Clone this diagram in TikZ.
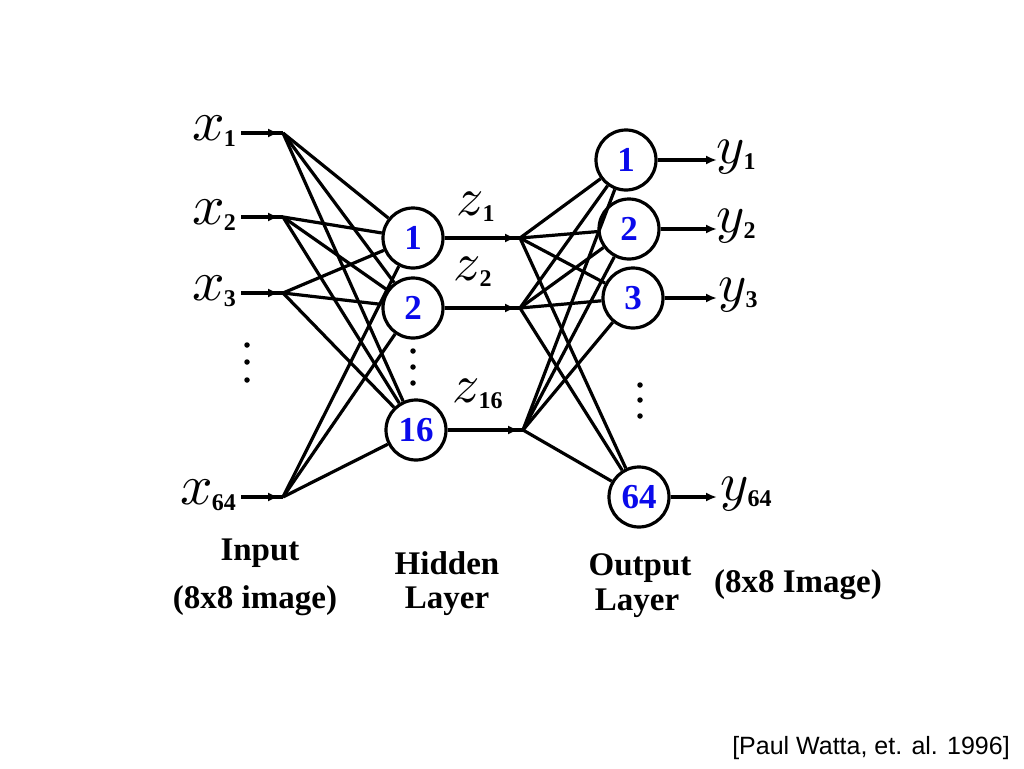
\documentclass[tikz,border=0pt]{standalone}
\usepackage{fontspec}
\setmainfont{Liberation Serif}
\newfontfamily\citefont{Liberation Sans}
\DeclareFontShape{OML}{cmm}{m}{it}{<->cmmi10}{\skewchar\font'177}
\usetikzlibrary{arrows.meta,decorations.markings}
\definecolor{numblue}{RGB}{10,10,235}
\newcommand\varlab[3]{\fontsize{#1}{#1}\selectfont$#2$\kern-1pt\raisebox{-6pt}{\fontsize{24}{24}\selectfont\bfseries #3}}
\begin{document}
\begin{tikzpicture}[x=1pt,y=-1pt,
  neuron/.style={circle,draw,line width=3.2pt,minimum size=60pt,inner sep=0pt,
    font=\fontsize{35}{35}\selectfont\bfseries,text=numblue},
  conn/.style={line width=3.2pt},
  midarr/.style={line width=3.4pt,postaction={decorate},
    decoration={markings,mark=at position -4pt with {\arrow{Latex[length=11pt,width=9pt]}}}},
  endarr/.style={line width=3.4pt,-{Latex[length=11pt,width=9pt]}},
  lab/.style={font=\fontsize{33}{36}\selectfont\bfseries,align=center},
  dotnode/.style={circle,fill,inner sep=0pt,minimum size=5.5pt}]
\useasboundingbox (0,0) rectangle (1024,768);
% input fan points
\coordinate (a1) at (283,133);
\coordinate (a2) at (283,217);
\coordinate (a3) at (283,293);
\coordinate (a64) at (283,497);
\coordinate (s1) at (241,133);
\coordinate (s2) at (241,217);
\coordinate (s3) at (241,293);
\coordinate (s64) at (241,497);
% hidden
\node[neuron] (h1) at (413,238) {1};
\node[neuron] (h2) at (413,308) {2};
\node[neuron] (h16) at (416,430) {16};
\coordinate (f1) at (520,238);
\coordinate (f2) at (520,308);
\coordinate (f16) at (523,430);
% output
\node[neuron] (o1) at (626,160) {1};
\node[neuron] (o2) at (629,229) {2};
\node[neuron] (o3) at (633,298) {3};
\node[neuron] (o64) at (639,497) {64};
\coordinate (e1) at (717,160);
\coordinate (e2) at (717,229);
\coordinate (e3) at (717,298);
\coordinate (e64) at (717,497);
% input labels
\node[anchor=base east,inner sep=0pt] (lx1) at (236,140) {\varlab{57}{x}{1}};
\node[anchor=base east,inner sep=0pt] (lx2) at (236,224) {\varlab{57}{x}{2}};
\node[anchor=base east,inner sep=0pt] (lx3) at (236,300) {\varlab{57}{x}{3}};
\node[anchor=base east,inner sep=0pt] (lx64) at (236,504) {\varlab{57}{x}{64}};
% input arrows
\foreach \i in {1,2,3,64} \draw[midarr] (s\i) -- (a\i);
% input connections
\foreach \i in {1,2,3,64} \foreach \j in {1,2,16} \draw[conn] (a\i) -- (h\j);
% hidden arrows
\foreach \j in {1,2,16} \draw[midarr] (h\j) -- (f\j);
% hidden to output
\foreach \j in {1,2,16} \foreach \k in {1,2,3,64} \draw[conn] (f\j) -- (o\k);
% output arrows
\foreach \k in {1,2,3,64} \draw[endarr] (o\k) -- (e\k);
% z labels
\node[anchor=base west,inner sep=0pt] (lz1) at (456,215) {\varlab{54}{z}{1}};
\node[anchor=base west,inner sep=0pt] (lz2) at (453,280) {\varlab{54}{z}{2}};
\node[anchor=base west,inner sep=0pt] (lz16) at (452,402) {\varlab{54}{z}{16}};
% y labels
\node[anchor=base west,inner sep=0pt] (ly1) at (716,163) {\varlab{54}{y}{1}};
\node[anchor=base west,inner sep=0pt] (ly2) at (716,232) {\varlab{54}{y}{2}};
\node[anchor=base west,inner sep=0pt] (ly3) at (718,301) {\varlab{54}{y}{3}};
\node[anchor=base west,inner sep=0pt] (ly64) at (720,500) {\varlab{54}{y}{64}};
% dots
\node[dotnode] (d1) at (247,345) {};
\node[dotnode] (d2) at (247,362) {};
\node[dotnode] (d3) at (247,380) {};
\node[dotnode] (d4) at (413,351) {};
\node[dotnode] (d5) at (413,367) {};
\node[dotnode] (d6) at (413,383) {};
\node[dotnode] (d7) at (640,385) {};
\node[dotnode] (d8) at (640,400) {};
\node[dotnode] (d9) at (640,416) {};
% bottom labels
\node[lab] (t1) at (260,553) {Input};
\node[lab] (t2) at (255,601) {(8x8 image)};
\node[lab] (t3) at (447,563) {Hidden};
\node[lab] (t4) at (447,601) {Layer};
\node[lab] (t5) at (640,568) {Output};
\node[lab] (t6) at (637,603) {Layer};
\node[lab] (t7) at (798,585) {(8x8 Image)};
\node[font=\citefont\fontsize{25}{25}\selectfont] (cite) at (871,748) {[Paul Watta, et. al. 1996]};
\end{tikzpicture}
\end{document}
